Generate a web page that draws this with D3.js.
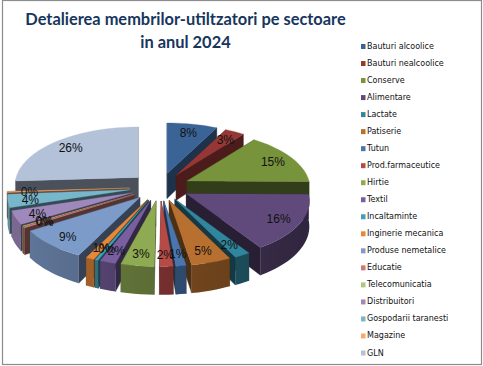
<!DOCTYPE html>
<html><head><meta charset="utf-8">
<script src="https://cdn.jsdelivr.net/npm/d3@7"></script>
<style>html,body{margin:0;padding:0;background:#fff}svg{display:block}</style></head>
<body><svg id="c" width="483" height="366"></svg>
<script>
const titleLines = ["Detalierea membrilor-utiltzatori pe sectoare", "in anul 2024"];
const categories = ["Bauturi alcoolice","Bauturi nealcoolice","Conserve","Alimentare","Lactate","Patiserie","Tutun","Prod.farmaceutice","Hirtie","Textil","Incaltaminte","Inginerie mecanica","Produse nemetalice","Educatie","Telecomunicatia","Distribuitori","Gospodarii taranesti","Magazine","GLN"];
const values = [7.6,2.9,14.6,15.6,1.9,4.7,1.2,1.6,3.9,1.9,0.4,1.0,8.5,0.3,0.2,3.7,3.6,0.3,25.9];
const labels = ["8%","3%","15%","16%","2%","5%","1%","2%","3%","2%","0%","1%","9%","0%","0%","4%","4%","0%","26%"];
const colors = ["#3b6496","#953735","#77933c","#604a7b","#31859c","#b7702f","#4a76ae","#b54a47","#8eaa52","#7a5fa0","#41a0b8","#e6883a","#7d9bc9","#c77b78","#aec77d","#9f88bb","#78b6cb","#f4a875","#b3c1d9"];

const svg = d3.select("#c");
const W = 483, H = 366;
svg.append("rect").attr("x",2.5).attr("y",0.5).attr("width",W-4).attr("height",H-2).attr("fill","#fff").attr("stroke","#8c8c8c").attr("stroke-width",1.2);
const defs = svg.append("defs");

const cx=160, cy=187, ex=30, ey=14, rx=122, ry=58, depth=25, persp=0.13;
const arcs = d3.pie().value(d=>d).sort(null)(values);
const rScale = d3.scaleLinear().domain([0,1]).range([0,1]);
const line = d3.line().x(d=>d[0]).y(d=>d[1]);
function apex(a){const m=(a.startAngle+a.endAngle)/2;return [cx+ex*Math.sin(m),cy-ey*Math.cos(m)];}
function pt(a,t,r,down){
  const o=apex(a), f=1-persp*Math.cos(t)*r, R=rScale(r);
  return [o[0]+rx*Math.sin(t)*f*R, o[1]-ry*Math.cos(t)*f*R+(down?depth*f:0)];
}
function shade(c,k){const q=d3.rgb(c);return d3.rgb(q.r*k,q.g*k,q.b*k).formatHex();}
const order = arcs.map((a,i)=>({a,i})).sort((p,q)=>Math.cos((q.a.startAngle+q.a.endAngle)/2)-Math.cos((p.a.startAngle+p.a.endAngle)/2));
const g = svg.append("g");
order.forEach(({a,i})=>{
  const col=colors[i], faces=[];
  [a.startAngle,a.endAngle].forEach(t=>{
    const p0=pt(a,t,0,false),p1=pt(a,t,1,false),p2=pt(a,t,1,true),p3=pt(a,t,0,true);
    const fk=(p1[1]>p0[1]||Math.abs(Math.cos(t))<0.2)?0.42:0.5;
    faces.push({pts:[p0,p1,p2,p3],fill:shade(col,fk),y:(p0[1]+p1[1])/2});
  });
  faces.sort((u,v)=>u.y-v.y).forEach(f=>g.append("path").attr("d",line(f.pts)+"Z").attr("fill",f.fill).attr("stroke",f.fill).attr("stroke-width",0.4));
  const n=Math.max(2,Math.ceil((a.endAngle-a.startAngle)/0.05));
  const ts=d3.range(n+1).map(k=>a.startAngle+(a.endAngle-a.startAngle)*k/n);
  const front=ts.filter(t=>Math.cos(t)<=0.02);
  if(front.length>1){
    const upper=front.map(t=>pt(a,t,1,false)), lower=front.map(t=>pt(a,t,1,true)).reverse();
    const xs=upper.map(d=>d[0]), id="side"+i;
    const grad=defs.append("linearGradient").attr("id",id).attr("gradientUnits","userSpaceOnUse")
      .attr("x1",d3.min(xs)).attr("x2",d3.max(xs)).attr("y1",0).attr("y2",0);
    const tone=t=>shade(col,0.64-0.14*Math.sin(t));
    grad.append("stop").attr("offset",0).attr("stop-color",tone(front[front.length-1]));
    grad.append("stop").attr("offset",1).attr("stop-color",tone(front[0]));
    g.append("path").attr("d",line(upper.concat(lower))+"Z").attr("fill",`url(#${id})`);
  }
  const top=[pt(a,a.startAngle,0,false)].concat(ts.map(t=>pt(a,t,1,false)));
  g.append("path").attr("d",line(top)+"Z").attr("fill",col).attr("stroke",col).attr("stroke-width",0.3);
});
arcs.forEach((a,i)=>{
  const p=pt(a,(a.startAngle+a.endAngle)/2,0.82,false);
  svg.append("text").attr("x",p[0]).attr("y",p[1]+5).attr("text-anchor","middle")
    .attr("font-family","Liberation Sans").attr("font-size",12).attr("fill","#111").text(labels[i]);
});
svg.selectAll("text.t").data(titleLines).join("text").attr("class","t")
  .attr("x",185.5).attr("y",(d,i)=>24.5+i*23).attr("text-anchor","middle")
  .attr("font-family","Lato").attr("font-weight",700).attr("font-size",16.4).attr("fill","#17365d").text(d=>d);
const ly=d3.scalePoint().domain(categories).range([46,352.5]);
const lg=svg.selectAll("g.l").data(categories).join("g").attr("class","l").attr("transform",d=>`translate(361,${ly(d)})`);
lg.append("rect").attr("x",0).attr("y",-2).attr("width",4.5).attr("height",5).attr("fill",(d,i)=>colors[i]);
lg.append("text").attr("x",6).attr("y",3).attr("font-family","DejaVu Sans").attr("font-size",8).attr("fill","#111").text(d=>d);
</script></body></html>
